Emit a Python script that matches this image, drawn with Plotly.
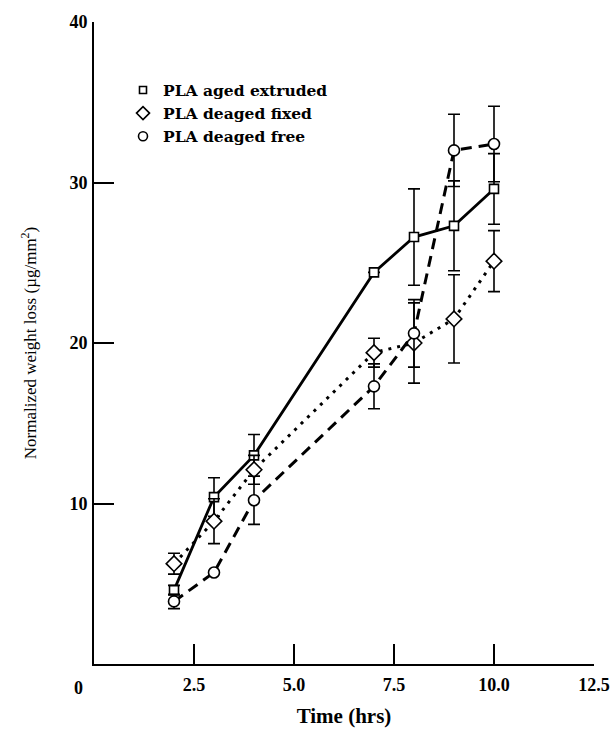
import plotly.graph_objects as go

time_hrs = [2, 3, 4, 7, 8, 9, 10]

aged_extruded = [4.6, 10.4, 13.0, 24.4, 26.6, 27.3, 29.6]
aged_extruded_err = [0.3, 1.2, 1.3, 0.0, 3.0, 2.8, 2.2]

deaged_fixed = [6.25, 8.9, 12.1, 19.4, 20.0, 21.5, 25.1]
deaged_fixed_err = [0.65, 1.4, 0.9, 0.9, 2.5, 2.75, 1.9]

deaged_free = [3.9, 5.7, 10.2, 17.3, 20.6, 32.0, 32.4]
deaged_free_err = [0.45, 0.0, 1.5, 1.4, 2.1, 2.25, 2.35]

series_names = ["PLA aged extruded", "PLA deaged fixed", "PLA deaged free"]

x_tickvals = [2.5, 5.0, 7.5, 10.0, 12.5]
x_ticktext = ["2.5", "5.0", "7.5", "10.0", "12.5"]
y_tickvals = [10, 20, 30, 40]
y_ticktext = ["10", "20", "30", "40"]

FONT = "Liberation Serif, Times New Roman, serif"
LEGEND_FONT = "DejaVu Serif, Liberation Serif, serif"

fig = go.Figure()

specs = [
    (aged_extruded, aged_extruded_err, "solid", 2.8, "square", 9),
    (deaged_fixed, deaged_fixed_err, "3px,6px", 3, "diamond", 12),
    (deaged_free, deaged_free_err, "11px,7px", 3, "circle", 11),
]

for (vals, errs, dash, lw, sym, msize), name in zip(specs, series_names):
    fig.add_trace(go.Scatter(
        x=time_hrs, y=vals, mode="lines+markers", name=name, showlegend=False,
        line=dict(color="black", width=lw, dash=dash),
        marker=dict(symbol=sym, size=msize, color="white",
                    line=dict(color="black", width=1.6)),
        error_y=dict(type="data", array=errs, visible=True, color="black",
                     thickness=1.6, width=6),
    ))

for (vals, errs, dash, lw, sym, msize), name in zip(specs, series_names):
    fig.add_trace(go.Scatter(
        x=[None], y=[None], mode="markers", name=name, showlegend=True,
        marker=dict(symbol=sym, size=msize - 2, color="white",
                    line=dict(color="black", width=1.6)),
    ))

fig.add_annotation(x=0, y=0, xref="x", yref="y", text="0", showarrow=False,
                   xshift=-16, yshift=-24,
                   font=dict(family=FONT, size=18, color="black", weight="bold"))

fig.update_layout(
    width=613, height=729,
    margin=dict(l=94, r=19, t=22, b=65),
    paper_bgcolor="white", plot_bgcolor="white",
    font=dict(family=FONT, size=16, color="black"),
    legend=dict(x=0.058, y=0.92, xanchor="left", yanchor="top",
                bgcolor="rgba(0,0,0,0)",
                font=dict(family=LEGEND_FONT, size=15.5, weight="bold"),
                tracegroupgap=0),
    xaxis=dict(range=[0, 12.5], showline=True, linecolor="black", linewidth=2,
               showgrid=False, zeroline=False, ticks="inside", ticklen=20,
               tickwidth=1.5, tickcolor="black", tickvals=x_tickvals,
               ticktext=x_ticktext, automargin=False,
               tickfont=dict(size=18, weight="bold"),
               ticklabelstandoff=3,
               title=dict(text="Time (hrs)", font=dict(size=21, weight="bold"),
                          standoff=15)),
    yaxis=dict(range=[0, 40], showline=True, linecolor="black", linewidth=2,
               showgrid=False, zeroline=False, ticks="inside", ticklen=20,
               tickwidth=1.5, tickcolor="black", tickvals=y_tickvals,
               ticktext=y_ticktext, automargin=False,
               tickfont=dict(size=18, weight="bold"),
               ticklabelstandoff=1,
               title=dict(text="Normalized weight loss (µg/mm<sup>2</sup>)",
                          font=dict(size=17), standoff=28)),
)

fig.write_html("out.html", config={"displayModeBar": False},
               post_script="document.body.style.margin='0';document.body.style.overflow='hidden';")
